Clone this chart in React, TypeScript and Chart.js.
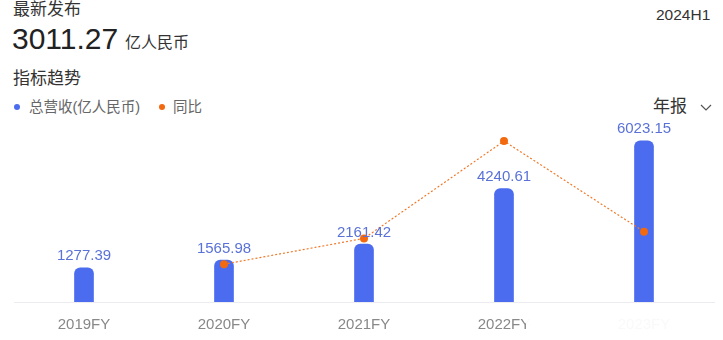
import React, { useEffect, useRef } from "react";
import { Chart, registerables } from "chart.js";

Chart.register(...registerables);

const categories = ["2019FY", "2020FY", "2021FY", "2022FY", "2023FY"];
const revenue = [1277.39, 1565.98, 2161.42, 4240.61, 6023.15];
const yoy: (number | null)[] = [null, 22.59, 38.02, 96.2, 42.04];
const revenueLabels = ["1277.39", "1565.98", "2161.42", "4240.61", "6023.15"];

const FONT = '"Liberation Sans", Arial, "Noto Sans CJK SC", sans-serif';

const barLabelPlugin = {
  id: "barLabels",
  afterDatasetsDraw(chart: any) {
    const meta = chart.getDatasetMeta(0);
    const ctx = chart.ctx;
    ctx.save();
    ctx.font = `15px ${FONT}`;
    ctx.fillStyle = "#5a72d8";
    ctx.textAlign = "center";
    ctx.textBaseline = "bottom";
    meta.data.forEach((bar: any, i: number) => {
      ctx.fillText(revenueLabels[i], bar.x, bar.y - 4);
    });
    ctx.restore();
  },
};

export default function App() {
  const ref = useRef<HTMLCanvasElement>(null);
  useEffect(() => {
    document.body.style.margin = "0";
    const chart = new Chart(ref.current!, {
      type: "bar",
      data: {
        labels: categories,
        datasets: [
          {
            type: "bar",
            label: "总营收(亿人民币)",
            data: revenue,
            backgroundColor: "#4b6cee",
            barThickness: 19,
            borderRadius: { topLeft: 6, topRight: 6, bottomLeft: 0, bottomRight: 0 },
            borderSkipped: false,
            yAxisID: "y",
            order: 2,
          },
          {
            type: "line",
            label: "同比",
            data: yoy,
            borderColor: "#f07a2a",
            borderWidth: 1.2,
            borderDash: [2, 2],
            pointRadius: 4,
            pointBackgroundColor: "#f2690f",
            pointBorderWidth: 0,
            yAxisID: "y2",
            order: 1,
          } as any,
        ],
      },
      options: {
        animation: false,
        responsive: false,
        maintainAspectRatio: false,
        layout: { padding: { left: 14, right: 9, top: 20, bottom: 10 } },
        plugins: { legend: { display: false }, tooltip: { enabled: false } },
        scales: {
          x: {
            grid: { display: false },
            border: { display: true, color: "#ececf0", width: 1 },
            ticks: { color: "#888", font: { size: 15, family: FONT }, padding: 6 },
          },
          y: { display: false, min: 0, max: 6800 },
          y2: { display: false, min: 0, max: 108.8 },
        },
      },
      plugins: [barLabelPlugin],
    });
    return () => chart.destroy();
  }, []);

  const txt: React.CSSProperties = { position: "absolute", whiteSpace: "nowrap", fontFamily: FONT, color: "#333" };
  return (
    <div style={{ position: "absolute", left: 0, top: 0, width: 723, height: 340, background: "#fff", overflow: "hidden" }}>
      <div style={{ ...txt, left: 13, top: 0, fontSize: 17, lineHeight: "20px" }}>最新发布</div>
      <div style={{ ...txt, left: 12, top: 22, fontSize: 30, lineHeight: "34px", color: "#222" }}>3011.27</div>
      <div style={{ ...txt, left: 125, top: 34, fontSize: 16, lineHeight: "18px" }}>亿人民币</div>
      <div style={{ ...txt, left: 656, top: 6, fontSize: 15.5, lineHeight: "18px" }}>2024H1</div>
      <div style={{ ...txt, left: 13, top: 69, fontSize: 17, lineHeight: "20px" }}>指标趋势</div>
      <div style={{ position: "absolute", left: 14, top: 104, width: 6, height: 6, borderRadius: 3, background: "#4b6cee" }} />
      <div style={{ ...txt, left: 29, top: 98, fontSize: 14.5, lineHeight: "18px", color: "#666" }}>总营收(亿人民币)</div>
      <div style={{ position: "absolute", left: 159, top: 104, width: 6, height: 6, borderRadius: 3, background: "#f2690f" }} />
      <div style={{ ...txt, left: 173, top: 98, fontSize: 14.5, lineHeight: "18px", color: "#666" }}>同比</div>
      <div style={{ ...txt, left: 653, top: 97, fontSize: 17, lineHeight: "20px" }}>年报</div>
      <svg style={{ position: "absolute", left: 700, top: 104 }} width="12" height="8">
        <polyline points="1,1 6,6 11,1" fill="none" stroke="#555" strokeWidth="1.2" />
      </svg>
      <canvas ref={ref} width={723} height={250} style={{ position: "absolute", left: 0, top: 100, width: 723, height: 250 }} />
      <div style={{ position: "absolute", left: 526, top: 307, width: 192, height: 31, background: "rgba(255,255,255,0.95)" }} />
    </div>
  );
}
